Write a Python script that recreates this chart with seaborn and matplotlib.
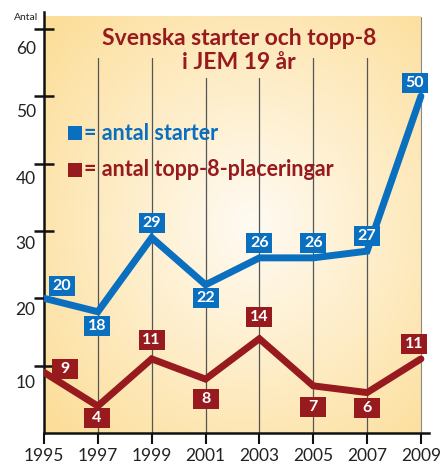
import numpy as np
import pandas as pd
import matplotlib
matplotlib.use("Agg")
import matplotlib.pyplot as plt
import matplotlib.transforms as mtransforms
from matplotlib.patches import Rectangle
from matplotlib.path import Path
import seaborn as sns

years = [1995, 1997, 1999, 2001, 2003, 2005, 2007, 2009]
starter = [20, 18, 29, 22, 26, 26, 27, 50]
topp8 = [9, 4, 11, 8, 14, 7, 6, 11]
yticks = [10, 20, 30, 40, 50, 60]

title_lines = ["Svenska starter och topp-8", "i JEM 19 år"]
label_starter = "= antal starter"
label_topp8 = "= antal topp-8-placeringar"

BLUE = "#0a6fbf"
RED = "#971a1e"

sns.set_theme(style="white")
plt.rcParams['font.family'] = ['Lato', 'DejaVu Sans']

DPI = 100
fig = plt.figure(figsize=(4.41, 4.65), dpi=DPI)
W, H = 441, 465
x0, x1 = 44, 429
y0, y1 = 433, 12
ax = fig.add_axes([x0 / W, 1 - y0 / H, (x1 - x0) / W, (y0 - y1) / H])
ax.set_xlim(1995, 2009.3)
ax.set_ylim(0, 62.5)

# radial gradient background
nx, ny = 300, 300
gx = np.linspace(0, 1, nx)
gy = np.linspace(0, 1, ny)
GX, GY = np.meshgrid(gx, gy)
cx, cy = 0.55, 0.5
r = np.sqrt(((GX - cx) / 0.72) ** 2 + ((GY - cy) / 0.72) ** 2)
r = np.clip(r, 0, 1)
c_in = np.array([1.0, 0.985, 0.955])
c_out = np.array([0.99, 0.87, 0.60])
img = c_in[None, None, :] * (1 - r[..., None]) + c_out[None, None, :] * r[..., None]
ax.imshow(img, extent=[1995, 2009, 0, 61.8], aspect='auto', origin='lower', zorder=0)
ax.plot([2009, 2009], [0, 61.8], color="#8a8a8a", lw=0.8, zorder=1)

# vertical year lines (shorter under the title)
vtops = [55.7, 55.7, 52.7, 52.7, 55.7, 55.7]
for yr, top in zip(years[1:-1], vtops):
    ax.plot([yr, yr], [0, top], color="#555555", lw=0.9, zorder=1)

df = pd.DataFrame({"year": years * 2,
                   "value": starter + topp8,
                   "series": [label_starter] * len(years) + [label_topp8] * len(years)})
sns.lineplot(data=df, x="year", y="value", hue="series",
             palette={label_starter: BLUE, label_topp8: RED},
             lw=5, legend=False, ax=ax, zorder=3, solid_joinstyle='miter')


def fixed_box(x0_, y0_, width, height, mutation_size):
    bw, bh = 26 * DPI / 100, 20 * DPI / 100
    cxb = x0_ + width / 2
    cyb = y0_ + height / 2
    verts = [(cxb - bw / 2, cyb - bh / 2), (cxb + bw / 2, cyb - bh / 2),
             (cxb + bw / 2, cyb + bh / 2), (cxb - bw / 2, cyb + bh / 2),
             (cxb - bw / 2, cyb - bh / 2)]
    return Path(verts, closed=True)


# data labels (offsets in pixels)
off_s = [(18, 12), (-1, -14), (0, 15), (0, -13), (0, 15), (0, 15), (0, 15), (-6, 13)]
off_t = [(21, 3), (-1, -12), (0, 19), (0, -20), (0, 22), (0, -21), (0, -15), (-7, 15)]
for vals, offs, col in [(starter, off_s, BLUE), (topp8, off_t, RED)]:
    for yr, v, o in zip(years, vals, offs):
        ax.annotate(str(v), (yr, v), xytext=o, textcoords="offset pixels",
                    ha="center", va="center", color="white", fontsize=11.5, fontweight="bold",
                    bbox=dict(boxstyle=fixed_box, fc=col, ec="none"), zorder=5,
                    annotation_clip=False)

# title
fig.text(239 / W, 1 - 45 / H, title_lines[0], ha="center", va="baseline", color=RED,
         fontsize=16.5, fontweight="bold")
fig.text(239 / W, 1 - 69 / H, title_lines[1], ha="center", va="baseline", color=RED,
         fontsize=16.5, fontweight="bold")

# legend
for yc, col, lab in [(133, BLUE, label_starter), (170, RED, label_topp8)]:
    fig.patches.append(Rectangle((68 / W, 1 - (yc + 7) / H), 14 / W, 14 / H,
                                 transform=fig.transFigure, fc=col, ec="none"))
    fig.text(84 / W, 1 - yc / H, lab, ha="left", va="center", color=col,
             fontsize=15.5, fontweight="bold")

fig.text(26 / W, 1 - 17 / H, "Antal", ha="center", va="center", color="#222222", fontsize=7.5)

# axes styling
for s in ["top", "right"]:
    ax.spines[s].set_visible(False)
ax.spines["left"].set_color("#111111")
ax.spines["left"].set_linewidth(1.8)
ax.spines["bottom"].set_color("#111111")
ax.spines["bottom"].set_linewidth(1.8)
ax.set_xlabel("")
ax.set_ylabel("")

ax.set_xticks(years)
ax.set_xticklabels([str(y) for y in years], fontsize=12.5, color="#222222")
ax.tick_params(axis="x", direction="out", length=8, width=1.5, color="#111111", pad=3, bottom=True)

ax.set_yticks(yticks)
ax.set_yticklabels([str(t) for t in yticks], fontsize=12.5, color="#222222")
ax.tick_params(axis="y", direction="inout", length=14, width=1.8, color="#111111", pad=-1, left=True)
ylab_shift_px = [16, 10, 12, 14, 14, 19]
for lab, s in zip(ax.get_yticklabels(), ylab_shift_px):
    shift = mtransforms.ScaledTranslation(0, -s / 100, fig.dpi_scale_trans)
    lab.set_transform(lab.get_transform() + shift)

fig.savefig("out.png", dpi=DPI)
